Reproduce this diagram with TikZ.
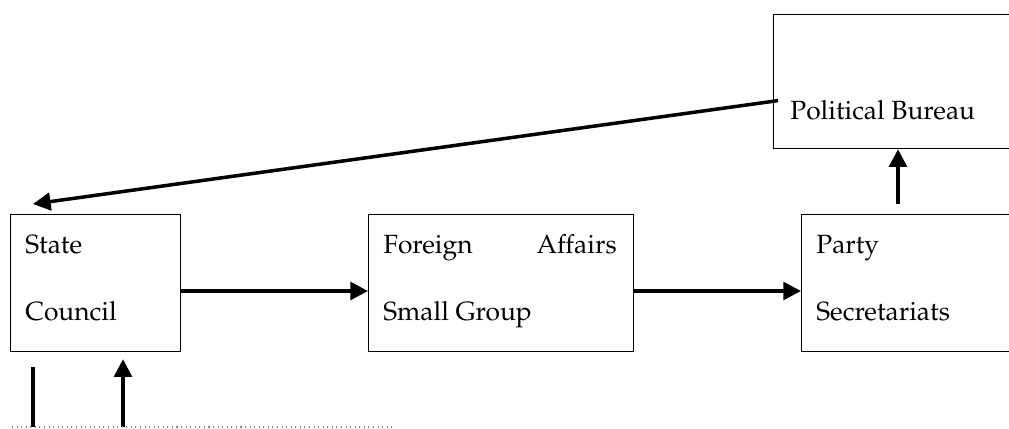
\documentclass[tikz,border=0pt]{standalone}
\usepackage[T1]{fontenc}
\usepackage{mathpazo}
\usetikzlibrary{arrows.meta, calc}
\tikzset{>={Triangle[length=10pt,width=10pt]}}
\tikzset{
  orgbox/.style={draw, line width=0.7pt, anchor=north west, minimum height=2.74cm, inner sep=0pt},
  boxtext/.style={anchor=base west, inner sep=0pt, font=\fontsize{15}{18}\selectfont},
  link/.style={->, line width=2pt},
}

\begin{document}
\begin{tikzpicture}

\useasboundingbox (0,0) rectangle (20.18,8.56);

% Boxes
\node[orgbox, minimum width=3.4cm] (sc) at (0.2,4.28) {};
\node[orgbox, minimum width=5.3cm] (fa) at (7.36,4.28) {};
\node[orgbox, minimum width=4.6cm] (ps) at (16.02,4.28) {};
\node[orgbox, minimum width=5.2cm, minimum height=2.68cm] (pb) at (15.46,8.28) {};

% Box texts
\node[boxtext] (sc1) at (0.5,3.5) {State};
\node[boxtext] (sc2) at (0.5,2.16) {Council};
\node[boxtext] (fa1) at (7.66,3.5) {Foreign};
\node[boxtext, anchor=base east] (fa2) at (12.34,3.5) {Affairs};
\node[boxtext] (fa3) at (7.66,2.16) {Small Group};
\node[boxtext] (ps1) at (16.32,3.5) {Party};
\node[boxtext] (ps2) at (16.32,2.16) {Secretariats};
\node[boxtext] (pb1) at (15.8,6.18) {Political Bureau};

% Helper points
\coordinate (row) at (0,2.74);
\coordinate (base) at (0,0.02);
\coordinate (scin) at ($(sc.north west)+(0.46,0.2)$);
\coordinate (psup) at ($(ps.north west)+(1.94,0.2)$);
\coordinate (stub) at ($(sc.south west)+(0.46,-0.3)$);
\coordinate (up) at ($(sc.south west)+(2.26,-0.14)$);
\coordinate (dl) at (0.24,0.02);
\coordinate (dr) at (7.84,0.02);

% Links
\draw[link] ($(pb.west)+(0.1,-0.38)$) -- (scin);     % bureau to council
\draw[link] (sc.east |- row) -- (fa.west |- row);    % council to group
\draw[link] (fa.east |- row) -- (ps.west |- row);    % group to secretariats
\draw[link] (psup) -- (psup |- pb.south);            % secretariats to bureau

% Bottom lines
\draw[line width=2pt] (stub) -- (stub |- base);
\draw[link] (up |- base) -- (up);
\draw[dotted, gray, line width=0.6pt] (dl) -- (dr);

\end{tikzpicture}
\end{document}
